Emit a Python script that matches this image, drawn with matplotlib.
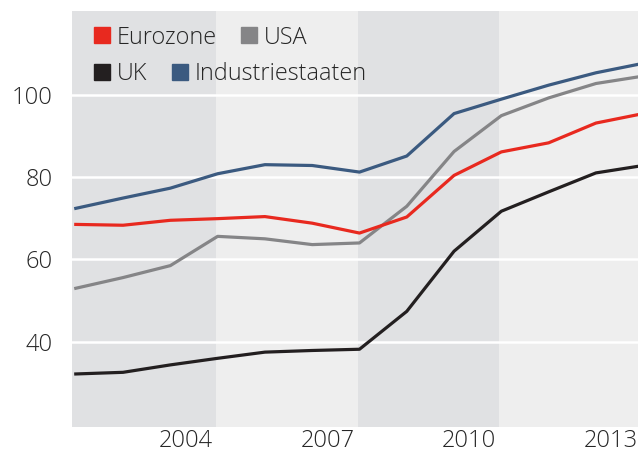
import matplotlib
matplotlib.use("Agg")
import matplotlib.pyplot as plt
from matplotlib.lines import Line2D

plt.rcParams['font.family'] = ['Open Sans', 'DejaVu Sans']
plt.rcParams['font.weight'] = 'light'

# data (index values)
years = [2001, 2002, 2003, 2004, 2005, 2006, 2007, 2008, 2009, 2010, 2011, 2012, 2013]
eurozone = [68.5, 68.3, 69.5, 69.9, 70.4, 68.8, 66.4, 70.3, 80.4, 86.1, 88.3, 93.1, 95.4]
usa = [53.0, 55.6, 58.5, 65.6, 65.0, 63.6, 64.0, 72.9, 86.2, 94.9, 99.2, 102.7, 104.5]
uk = [32.2, 32.6, 34.4, 36.0, 37.5, 37.9, 38.2, 47.4, 62.0, 71.7, 76.4, 81.0, 82.8]
industrie = [72.4, 74.9, 77.3, 80.8, 83.0, 82.8, 81.2, 85.1, 95.4, 98.9, 102.3, 105.3, 107.6]
tick_years = [2004, 2007, 2010, 2013]
y_ticks = [40, 60, 80, 100]

RED = '#e8291f'
GRAY = '#858587'
BLACK = '#231f20'
BLUE = '#3b5a80'
DARK_BAND = '#e0e1e3'
LIGHT_BAND = '#eeeeee'
TEXT = '#262626'

W, H = 638, 461
fig = plt.figure(figsize=(W / 100, H / 100), dpi=100)
ax = fig.add_axes([72 / W, (H - 426.7) / H, 1 - 72 / W, (426.7 - 11) / H])

x0, x1 = 2000.92, 2012.89
ax.set_xlim(x0, x1)
ax.set_ylim(19.4, 120.3)

# alternating background bands (boundaries just left of the year points)
off = 0.04
bands = [(x0, 2004 - off, DARK_BAND), (2004 - off, 2007 - off, LIGHT_BAND),
         (2007 - off, 2010 - off, DARK_BAND), (2010 - off, 2014, LIGHT_BAND)]
for a, b, c in bands:
    ax.axvspan(a, b, color=c, lw=0, zorder=0)

for y in y_ticks:
    ax.axhline(y, color='white', lw=1.8, zorder=1)

lw = 2.3
ax.plot(years, usa, color=GRAY, lw=lw, zorder=3)
ax.plot(years, eurozone, color=RED, lw=lw, zorder=3)
ax.plot(years, uk, color=BLACK, lw=lw, zorder=3)
ax.plot(years, industrie, color=BLUE, lw=lw, zorder=3)

for s in ax.spines.values():
    s.set_visible(False)
ax.set_yticks(y_ticks)
ax.set_yticklabels([str(v) for v in y_ticks])
ax.tick_params(axis='y', length=0, pad=14, labelsize=17, labelcolor=TEXT)
ax.set_xticks([])

# year labels, right-aligned at year boundaries
for yr in tick_years:
    ax.annotate(str(yr), xy=(yr, 0), xycoords=('data', 'axes fraction'),
                xytext=(-5, -14), textcoords='offset pixels',
                ha='right', va='center', fontsize=17, color=TEXT,
                annotation_clip=False)

def sq(c):
    return Line2D([], [], marker='s', linestyle='none', markersize=11,
                  markerfacecolor=c, markeredgecolor=c)

leg_kw = dict(frameon=False, ncol=2, fontsize=16.8, handlelength=0.68,
              handletextpad=0.3, columnspacing=1.05, borderaxespad=0,
              borderpad=0, labelcolor=TEXT, loc='center left')
leg1 = ax.legend([sq(RED), sq(GRAY)], ['Eurozone', 'USA'],
                 bbox_to_anchor=(94 / W, (H - 37.5) / H),
                 bbox_transform=fig.transFigure, **leg_kw)
ax.add_artist(leg1)
ax.legend([sq(BLACK), sq(BLUE)], ['UK', 'Industriestaaten'],
          bbox_to_anchor=(94 / W, (H - 74) / H),
          bbox_transform=fig.transFigure, **leg_kw)

fig.savefig('out.png', dpi=100, facecolor='white')
